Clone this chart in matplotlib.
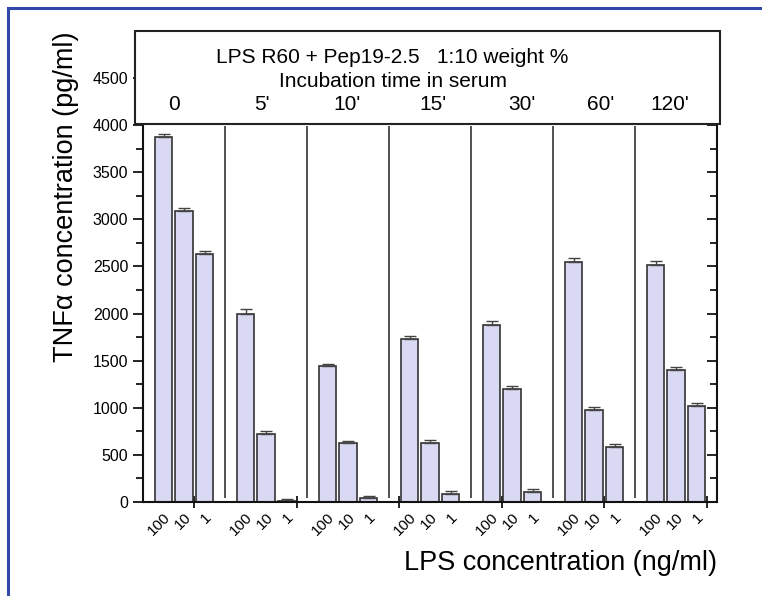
import numpy as np
import matplotlib
matplotlib.use("Agg")
import matplotlib.pyplot as plt
from matplotlib.patches import Rectangle

plt.rcParams['font.family'] = ['Liberation Sans', 'DejaVu Sans']

# LPS concentration under each bar, incubation time per group
conc_labels = ["100", "10", "1"]
time_labels = ["0", "5'", "10'", "15'", "30'", "60'", "120'"]

# TNF-alpha (pg/ml), one row per incubation time, columns = 100, 10, 1 ng/ml
tnf_0 = [3880, 3090, 2630]
tnf_5 = [2000, 720, 15]
tnf_10 = [1440, 625, 40]
tnf_15 = [1730, 625, 90]
tnf_30 = [1880, 1200, 110]
tnf_60 = [2550, 980, 580]
tnf_120 = [2520, 1400, 1020]

err_0 = [30, 30, 30]
err_5 = [45, 36, 15]
err_10 = [28, 27, 22]
err_15 = [35, 28, 25]
err_30 = [40, 28, 25]
err_60 = [45, 30, 35]
err_120 = [35, 30, 35]

values = np.array([tnf_0, tnf_5, tnf_10, tnf_15, tnf_30, tnf_60, tnf_120])
errors = np.array([err_0, err_5, err_10, err_15, err_30, err_60, err_120])

n_groups, n_conc = values.shape
slot = n_conc + 1
x = np.array([[g * slot + i for i in range(n_conc)] for g in range(n_groups)]).ravel()
y = values.ravel()
yerr = errors.ravel()

fig = plt.figure(figsize=(7.62, 5.96), dpi=100)
ax = fig.add_axes([143 / 762, 1 - 502 / 596, 574 / 762, 471 / 596])

ax.bar(x, y, width=0.83, color='#d9d9f3', edgecolor='#333333', linewidth=1.2, zorder=2)
ax.errorbar(x, y, yerr=[np.zeros_like(yerr), yerr], fmt='none', ecolor='#444444',
            elinewidth=1.0, capsize=4, capthick=1.0, zorder=2)

# separators between incubation groups
for g in range(n_groups - 1):
    ax.vlines(g * slot + n_conc, 40, 3990, color='#222222', linewidth=1.1, zorder=1)

ax.set_xlim(-1, n_groups * slot - 1)
ax.set_ylim(0, 5000)

ax.set_yticks(np.arange(0, 5000, 500))
ax.set_yticks(np.arange(250, 5000, 500), minor=True)
ax.tick_params(axis='y', which='major', direction='out', length=7, width=1.2,
               labelsize=11.5, pad=3.5, right=True)
ax.tick_params(axis='y', which='minor', direction='out', length=5, width=1.2, right=True)

ax.set_xticks(np.arange(1.5, n_groups * slot, 5))
ax.set_xticklabels([])
ax.set_xticks(x, minor=True)
ax.set_xticklabels(conc_labels * n_groups, minor=True, rotation=45,
                   ha='right', rotation_mode='anchor', fontsize=11)
ax.tick_params(axis='x', which='major', direction='inout', length=9, width=1.2)
ax.tick_params(axis='x', which='minor', length=0, pad=6)

for side in ['left', 'bottom', 'right']:
    ax.spines[side].set_linewidth(1.5)
    ax.spines[side].set_color('#111111')
ax.spines['left'].set_bounds(0, 4020)
ax.spines['right'].set_bounds(0, 4020)
ax.spines['top'].set_visible(False)

# right side ticks point inward
for t in ax.yaxis.get_major_ticks():
    t.tick2line.set_marker(matplotlib.lines.TICKLEFT)
    t.tick2line.set_markersize(7)
for t in ax.yaxis.get_minor_ticks():
    t.tick2line.set_marker(matplotlib.lines.TICKLEFT)
    t.tick2line.set_markersize(5)

# header box with the incubation times
box = Rectangle((-1.39, 4010), 28.54, 985, facecolor='white', edgecolor='#222222',
                linewidth=1.5, clip_on=False, zorder=3)
ax.add_patch(box)
ax.text(11.15, 4715, "LPS R60 + Pep19-2.5   1:10 weight %", ha='center', va='center',
        fontsize=15, zorder=4)
ax.text(11.2, 4465, "Incubation time in serum", ha='center', va='center',
        fontsize=15, zorder=4)
header_x = [0.5, 4.8, 8.95, 13.15, 17.5, 21.3, 24.7]
for hx, lab in zip(header_x, time_labels):
    ax.text(hx, 4225, lab, ha='center', va='center', fontsize=15, zorder=4)

fig.text(717 / 762, 1 - 563 / 596, "LPS concentration (ng/ml)", ha='right', va='center',
         fontsize=19.5)
fig.text(66 / 762, 1 - 197 / 596, "TNF\u03b1 concentration (pg/ml)", rotation=90,
         ha='center', va='center', fontsize=19.5)

# blue frame (open at right and bottom)
fig.add_artist(Rectangle((8 / 762, -0.1), 1.2, 1.1 - 8 / 596, transform=fig.transFigure,
                         fill=False, edgecolor='#3349a8', linewidth=2.2))

fig.savefig("out.png", dpi=100)
